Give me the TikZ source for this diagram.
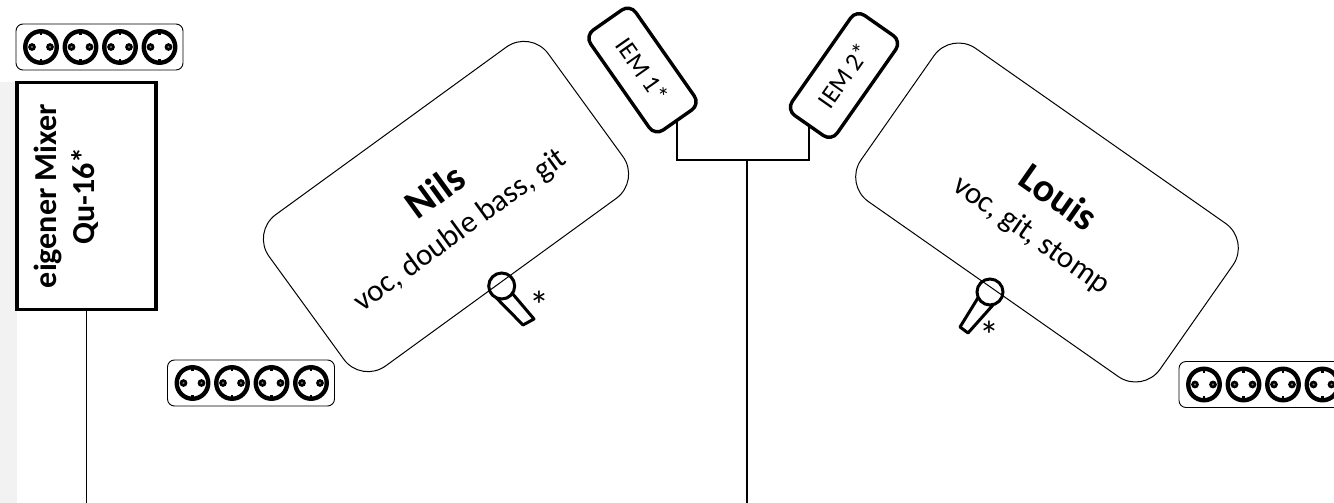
\documentclass[tikz,border=0pt]{standalone}
\usepackage{fontspec}
\setmainfont{Carlito}
\usepackage{xcolor}
\definecolor{stripgrey}{HTML}{F2F2F2}
\tikzset{
  player/.style={draw,line width=1pt,rounded corners=30pt,minimum width=#1,minimum height=187pt,inner sep=0pt,outer sep=0pt},
  iem/.style={draw,line width=3.4pt,rounded corners=10pt,minimum width=122pt,minimum height=55pt,inner sep=0pt,outer sep=0pt,font=\fontsize{25.5pt}{30pt}\selectfont},
  mixer/.style={draw,fill=white,line width=3.6pt,minimum width=227pt,minimum height=139pt,inner sep=0pt,outer sep=0pt},
  strip/.style={draw,line width=0.9pt,rounded corners=7pt,minimum width=167pt,minimum height=46pt,inner sep=0pt,outer sep=0pt},
  socket/.style={draw,circle,line width=4.4pt,minimum size=31.5pt,inner sep=0pt,outer sep=0pt},
  pin/.style={draw,circle,line width=2.6pt,fill=gray,minimum size=5pt,inner sep=0pt,outer sep=0pt},
  mic/.style={line width=3pt,line join=round},
  head/.style={draw,circle,line width=3pt,minimum size=26pt,inner sep=0pt,outer sep=0pt},
  star/.style={inner sep=0pt,font=\fontsize{40pt}{40pt}\selectfont},
  cable/.style={line width=#1},
}
% strip name, left edge, centre y
\newcommand{\socketstrip}[3]{
  \node[strip,anchor=west] (#1) at (#2,#3) {};
  \foreach \n/\dx in {1/25,2/64.5,3/104,4/143.5} {
    \node[socket] (#1s\n) at (#2+\dx,#3) {};
    \node[pin] at (#2+\dx-9,#3) {};
    \node[pin] at (#2+\dx+9,#3) {};
    \draw[line width=2.8pt] (#1s\n.north) -- ++(0,4);
    \draw[line width=2.8pt] (#1s\n.south) -- ++(0,-4);
  }
}
\begin{document}
\begin{tikzpicture}[x=1pt,y=-1pt]
\clip (0,0) rectangle (1334,503);
\fill[stripgrey] (0,82) rectangle (17,503);
% mixer
\node[mixer,rotate=90] (mix) at (86.5,196) {};
\node[rotate=90,align=center,font=\fontsize{32pt}{38pt}\selectfont\bfseries] (mixlabel) at (66,196) {eigener Mixer\\Qu-16*};
\coordinate (mixend) at (86.5,503);
\draw[cable=1.5pt] (mix.west) -- (mixend);
% players
\node[player=345pt,rotate=36] (nils) at (446,206.5) {};
\node[rotate=36,font=\fontsize{40.5pt}{44pt}\selectfont\bfseries] (nilsname) at (435,191) {Nils};
\node[rotate=36,font=\fontsize{31pt}{36pt}\selectfont] (nilsinst) at (460.5,231) {voc, double bass, git};
\node[player=365pt,rotate=-35] (louis) at (1047,212.5) {};
\node[rotate=-35,font=\fontsize{40pt}{44pt}\selectfont\bfseries] (louisname) at (1059,197) {Louis};
\node[rotate=-35,font=\fontsize{31pt}{36pt}\selectfont] (louisinst) at (1031,235.5) {voc, git, stomp};
% iem
\node[iem,rotate=-55] (iemone) at (642.5,70) {IEM 1*};
\node[iem,rotate=55] (iemtwo) at (844,75.5) {IEM 2*};
\coordinate (bus) at (747,160);
\coordinate (busend) at (747,503);
\draw[cable=2pt] (iemone.east) |- (bus) -| (iemtwo.west);
\draw[cable=2pt] (bus) -- (busend);
% mics
\node[head] (nilsmic) at (501.7,286) {};
\draw[mic] (nilsmic.-115) -- (523,325) -- (534,319) -- (nilsmic.-35);
\node[star] (nilsstar) at (539,305.5) {*};
\node[head] (louismic) at (990,292) {};
\draw[mic] (louismic.-155) -- (960,327) -- (968,333) -- (louismic.-75);
\node[star] (louisstar) at (989,335.5) {*};
% sockets
\socketstrip{stripa}{16}{47}
\socketstrip{stripb}{167.5}{383}
\socketstrip{stripc}{1179}{384.5}
\end{tikzpicture}
\end{document}
